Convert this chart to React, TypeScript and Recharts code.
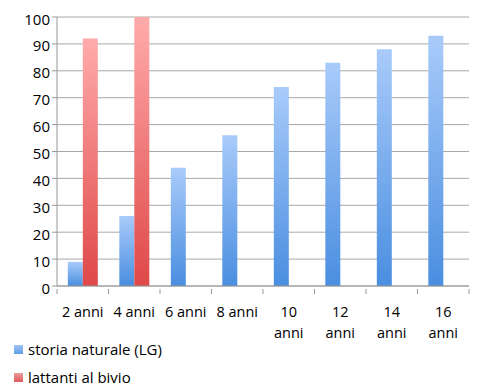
import { BarChart, Bar, XAxis, YAxis, CartesianGrid, Legend } from 'recharts'

const categories = ['2 anni', '4 anni', '6 anni', '8 anni', '10 anni', '12 anni', '14 anni', '16 anni']
const storiaNaturale = [9, 26, 44, 56, 74, 83, 88, 93]
const lattantiBivio: (number | null)[] = [92, 100, null, null, null, null, null, null]
const yTicks = [0, 10, 20, 30, 40, 50, 60, 70, 80, 90, 100]

const FONT = '"Open Sans", sans-serif'
const WIDTH = 479
const HEIGHT = 391
const PLOT_LEFT = 57
const PLOT_RIGHT = 10

const data = categories.map((name, i) => ({
  name,
  storia: storiaNaturale[i],
  lattanti: lattantiBivio[i],
}))

const band = (WIDTH - PLOT_LEFT - PLOT_RIGHT) / categories.length

function XTick(props: any) {
  const { x, y, payload, index } = props
  const words = String(payload.value).split(' ')
  // short labels fit on one line, the two-digit ones wrap
  const lines = String(payload.value).length > 6 ? words : [payload.value]
  const left = x - band / 2
  return (
    <g>
      <line x1={left} y1={y - 5} x2={left} y2={y} stroke="#999" />
      {index === categories.length - 1 && (
        <line x1={left + band} y1={y - 5} x2={left + band} y2={y} stroke="#999" />
      )}
      <text x={x} y={y + 23} textAnchor="middle" fontFamily={FONT} fontSize={14.5} fill="#000">
        {lines.map((l: string, i: number) => (
          <tspan key={i} x={x} dy={i === 0 ? 0 : 21}>
            {l}
          </tspan>
        ))}
      </text>
    </g>
  )
}

function YTick(props: any) {
  const { x, y, payload } = props
  return (
    <text x={x} y={y + 7.5} textAnchor="end" fontFamily={FONT} fontSize={15} fill="#000">
      {payload.value}
    </text>
  )
}

function LegendContent() {
  const rows = [
    { label: 'storia naturale (LG)', color: '#5f9de8' },
    { label: 'lattanti al bivio', color: '#e05a5a' },
  ]
  return (
    <div style={{ height: 56, paddingLeft: 14, fontFamily: FONT, fontSize: 15, color: '#000' }}>
      {rows.map((r) => (
        <div key={r.label} style={{ height: 28, display: 'flex', alignItems: 'center' }}>
          <span
            style={{
              display: 'inline-block',
              width: 9,
              height: 9,
              marginRight: 5,
              background: `linear-gradient(${r.color}99, ${r.color})`,
            }}
          />
          {r.label}
        </div>
      ))}
    </div>
  )
}

export default function App() {
  return (
    <div style={{ position: 'absolute', left: 0, top: 0, width: WIDTH, height: HEIGHT, background: '#fff' }}>
      <BarChart
        width={WIDTH}
        height={HEIGHT}
        data={data}
        margin={{ top: 17, right: PLOT_RIGHT, bottom: 0, left: 0 }}
        barCategoryGap="21%"
        barGap={0}
      >
        <defs>
          <linearGradient id="blueBar" x1="0" y1="0" x2="0" y2="1">
            <stop offset="0%" stopColor="#a9cbfa" />
            <stop offset="100%" stopColor="#4a8ee0" />
          </linearGradient>
          <linearGradient id="redBar" x1="0" y1="0" x2="0" y2="1">
            <stop offset="0%" stopColor="#ffabab" />
            <stop offset="100%" stopColor="#df4848" />
          </linearGradient>
        </defs>
        <CartesianGrid vertical={false} stroke="#a8a8a8" />
        <XAxis
          dataKey="name"
          height={49}
          tickLine={false}
          axisLine={{ stroke: '#999' }}
          tick={<XTick />}
          interval={0}
        />
        <YAxis
          width={PLOT_LEFT}
          domain={[0, 100]}
          ticks={yTicks}
          tickSize={5}
          tickLine={{ stroke: '#999' }}
          axisLine={{ stroke: '#999' }}
          tick={<YTick />}
          interval={0}
        />
        <Legend
          layout="horizontal"
          verticalAlign="bottom"
          align="left"
          content={<LegendContent />}
          wrapperStyle={{ left: 0, bottom: 0, width: WIDTH }}
        />
        <Bar dataKey="storia" name="storia naturale (LG)" fill="url(#blueBar)" isAnimationActive={false} />
        <Bar dataKey="lattanti" name="lattanti al bivio" fill="url(#redBar)" isAnimationActive={false} />
      </BarChart>
    </div>
  )
}
